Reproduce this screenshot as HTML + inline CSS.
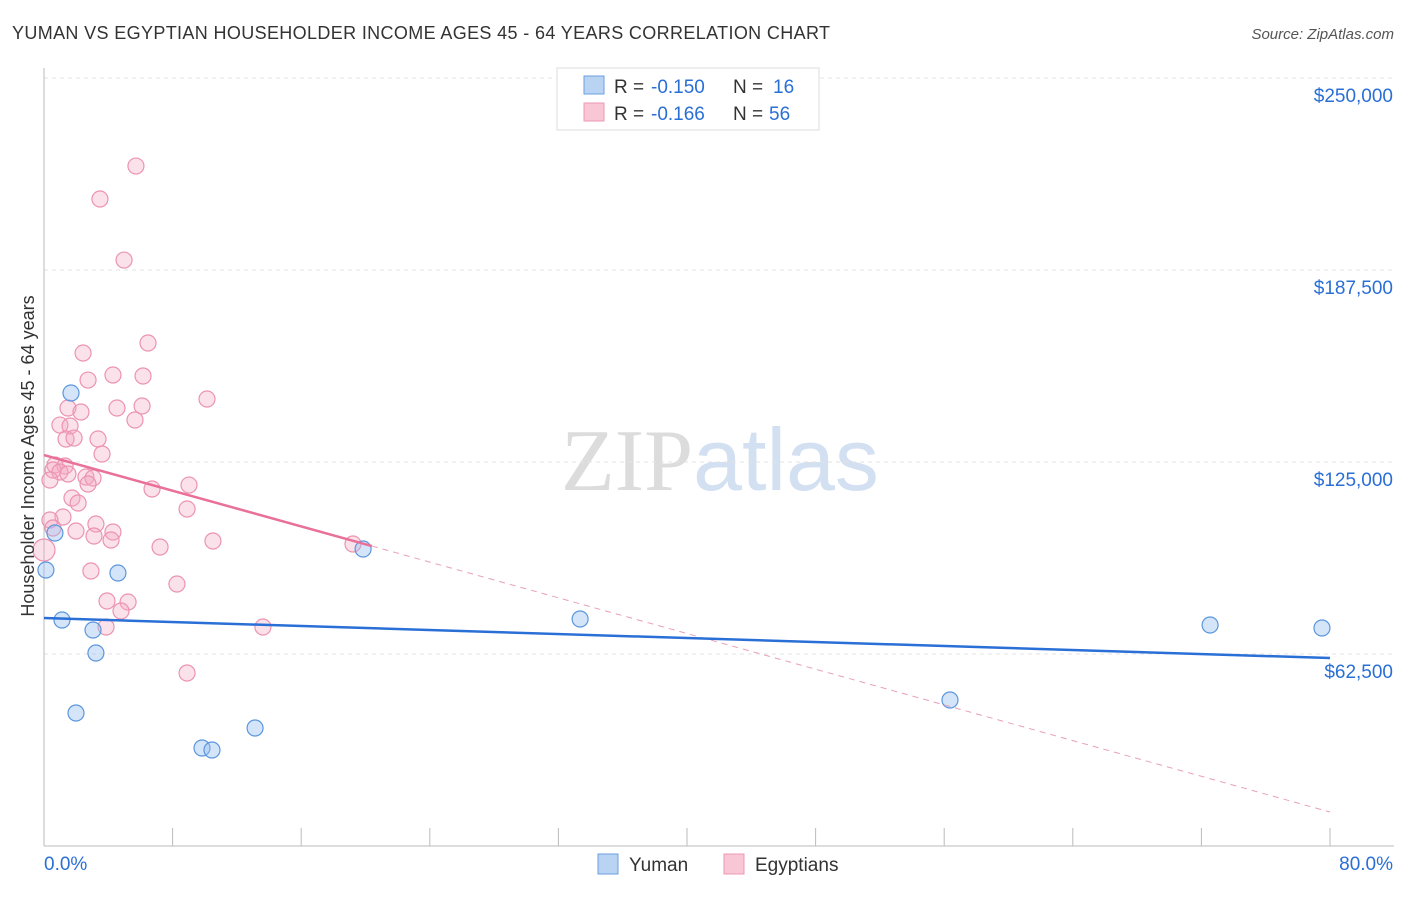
<!DOCTYPE html>
<html><head><meta charset="utf-8"><style>
body{margin:0;background:#fff;font-family:"Liberation Sans",sans-serif;}
svg text{font-family:"Liberation Sans",sans-serif;}
</style></head><body>
<svg id="chart" width="1406" height="892" viewBox="0 0 1406 892" xmlns="http://www.w3.org/2000/svg">
<text x="12" y="39" font-size="18" fill="#333" textLength="818">YUMAN VS EGYPTIAN HOUSEHOLDER INCOME AGES 45 - 64 YEARS CORRELATION CHART</text>
<text x="1394" y="39" font-size="15" fill="#555" text-anchor="end" font-style="italic">Source: ZipAtlas.com</text>
<text x="720" y="490" font-size="88" text-anchor="middle"><tspan fill="#dcdcdc" font-family="Liberation Serif">ZIP</tspan><tspan fill="#d3e0f2">atlas</tspan></text>
<g id="grid"></g>
<g id="axes"></g>
<g id="marks"></g>
<text transform="translate(34,456) rotate(-90)" font-size="18" fill="#333" text-anchor="middle">Householder Income Ages 45 - 64 years</text>
<g>
<rect x="557" y="68" width="262" height="62" fill="#fff" stroke="#ddd"/>
<rect x="584" y="76" width="20" height="18" fill="#b9d3f3" stroke="#6a9fe0"/>
<rect x="584" y="103" width="20" height="18" fill="#f8c6d4" stroke="#eb98b2"/>
<text x="614" y="93" font-size="19" fill="#333">R =</text>
<text x="651" y="93" font-size="19" fill="#2a6fd6">-0.150</text>
<text x="733" y="93" font-size="19" fill="#333">N =</text>
<text x="773" y="93" font-size="19" fill="#2a6fd6">16</text>
<text x="614" y="120" font-size="19" fill="#333">R =</text>
<text x="651" y="120" font-size="19" fill="#2a6fd6">-0.166</text>
<text x="733" y="120" font-size="19" fill="#333">N =</text>
<text x="769" y="120" font-size="19" fill="#2a6fd6">56</text>
</g>
<g>
<rect x="598" y="854" width="20" height="20" fill="#b9d3f3" stroke="#6a9fe0"/>
<text x="629" y="871" font-size="19" fill="#333">Yuman</text>
<rect x="724" y="854" width="20" height="20" fill="#f8c6d4" stroke="#eb98b2"/>
<text x="755" y="871" font-size="19" fill="#333">Egyptians</text>
</g>
</svg>
<script>
const yTicks=[62500,125000,187500,250000];
const yTickLabels=["$62,500","$125,000","$187,500","$250,000"];
const yumanX=[1.68,0.68,0.12,1.12,4.60,3.05,3.23,1.99,9.83,10.45,13.13,19.85,33.35,56.36,72.54,79.50];
const yumanY=[147450,101880,89840,73560,88860,70310,62820,43290,31900,31250,38410,96670,73890,47520,71940,70960];
const egyX=[5.72,3.48,4.98,6.47,2.43,2.74,4.29,6.16,10.14,1.49,2.30,4.54,6.10,5.66,0.99,1.62,1.37,1.87,3.36,3.61,0.68,1.31,0.56,0.99,1.49,2.61,3.05,2.74,6.72,9.02,0.37,1.74,2.12,8.90,1.18,0.37,3.23,0.56,1.99,4.29,3.11,4.17,10.51,19.22,7.22,0,2.92,8.27,3.92,5.23,4.79,3.86,13.62,8.90];
const egyY=[221340,210600,190740,163730,160470,151680,153310,152990,145500,142570,141270,142570,143220,138660,137030,136710,132480,132800,132480,127600,124020,123690,122390,121740,121090,120110,119780,117830,116200,117500,119130,113270,111650,109690,107090,106110,104810,103510,102530,102210,100910,99600,99280,98300,97330,96350,89510,85280,79750,79420,76490,71280,71280,56310];
const yumanTrend=[74210,61190];
const egyTrend=[127270,11070];
const egySolidEnd=20.4;

const NS="http://www.w3.org/2000/svg";
const sx=v=>44+v/80*1286;
const sy=v=>846-v/62500*192;
function mk(tag,attrs,parent){const e=document.createElementNS(NS,tag);for(const k in attrs)e.setAttribute(k,attrs[k]);parent.appendChild(e);return e;}
const grid=document.getElementById('grid'),axes=document.getElementById('axes'),marks=document.getElementById('marks');
yTicks.forEach((t,i)=>{
 const l=mk('line',{x1:44,x2:1394,y1:sy(t),y2:sy(t),stroke:'#e3e3e3','stroke-dasharray':'4,4'},grid);
 
 
 const tx=mk('text',{x:1393,y:sy(t)+24,'font-size':19,fill:'#2a6fd6','text-anchor':'end'},axes);
 tx.textContent=yTickLabels[i];
 
 
});
mk('line',{x1:44,x2:44,y1:68,y2:846,stroke:'#bbb'},axes);
mk('line',{x1:44,x2:1394,y1:846,y2:846,stroke:'#bbb'},axes);
for(let i=0;i<=10;i++){const x=sx(i*8);const t=mk('line',{x1:x,x2:x,y1:828,y2:846,stroke:'#bbb'},axes);
 
 }
const x0=mk('text',{x:44,y:870,'font-size':19,fill:'#2a6fd6'},axes);x0.textContent='0.0%';


const x1=mk('text',{x:1393,y:870,'font-size':19,fill:'#2a6fd6','text-anchor':'end'},axes);x1.textContent='80.0%';


egyX.forEach((x,i)=>{const c=mk('circle',{cx:sx(x),cy:sy(egyY[i]),r:x===0?11:8,fill:'rgba(244,170,195,0.35)',stroke:'#ec93b0','stroke-width':1.2},marks);
 
 });
yumanX.forEach((x,i)=>{const c=mk('circle',{cx:sx(x),cy:sy(yumanY[i]),r:8,fill:'rgba(150,190,240,0.4)',stroke:'#5b96dd','stroke-width':1.2},marks);
 
 });
const ey=x=>egyTrend[0]+(egyTrend[1]-egyTrend[0])*x/80;
const l1=mk('line',{x1:sx(0),y1:sy(egyTrend[0]),x2:sx(egySolidEnd),y2:sy(ey(egySolidEnd)),stroke:'#e8709a','stroke-width':2.5},marks);


const l2=mk('line',{x1:sx(egySolidEnd),y1:sy(ey(egySolidEnd)),x2:sx(80),y2:sy(egyTrend[1]),stroke:'#e8a0b8','stroke-width':1,'stroke-dasharray':'6,5'},marks);


const l3=mk('line',{x1:sx(0),y1:sy(yumanTrend[0]),x2:sx(80),y2:sy(yumanTrend[1]),stroke:'#2a6fd6','stroke-width':2.5},marks);


</script>
</body></html>
